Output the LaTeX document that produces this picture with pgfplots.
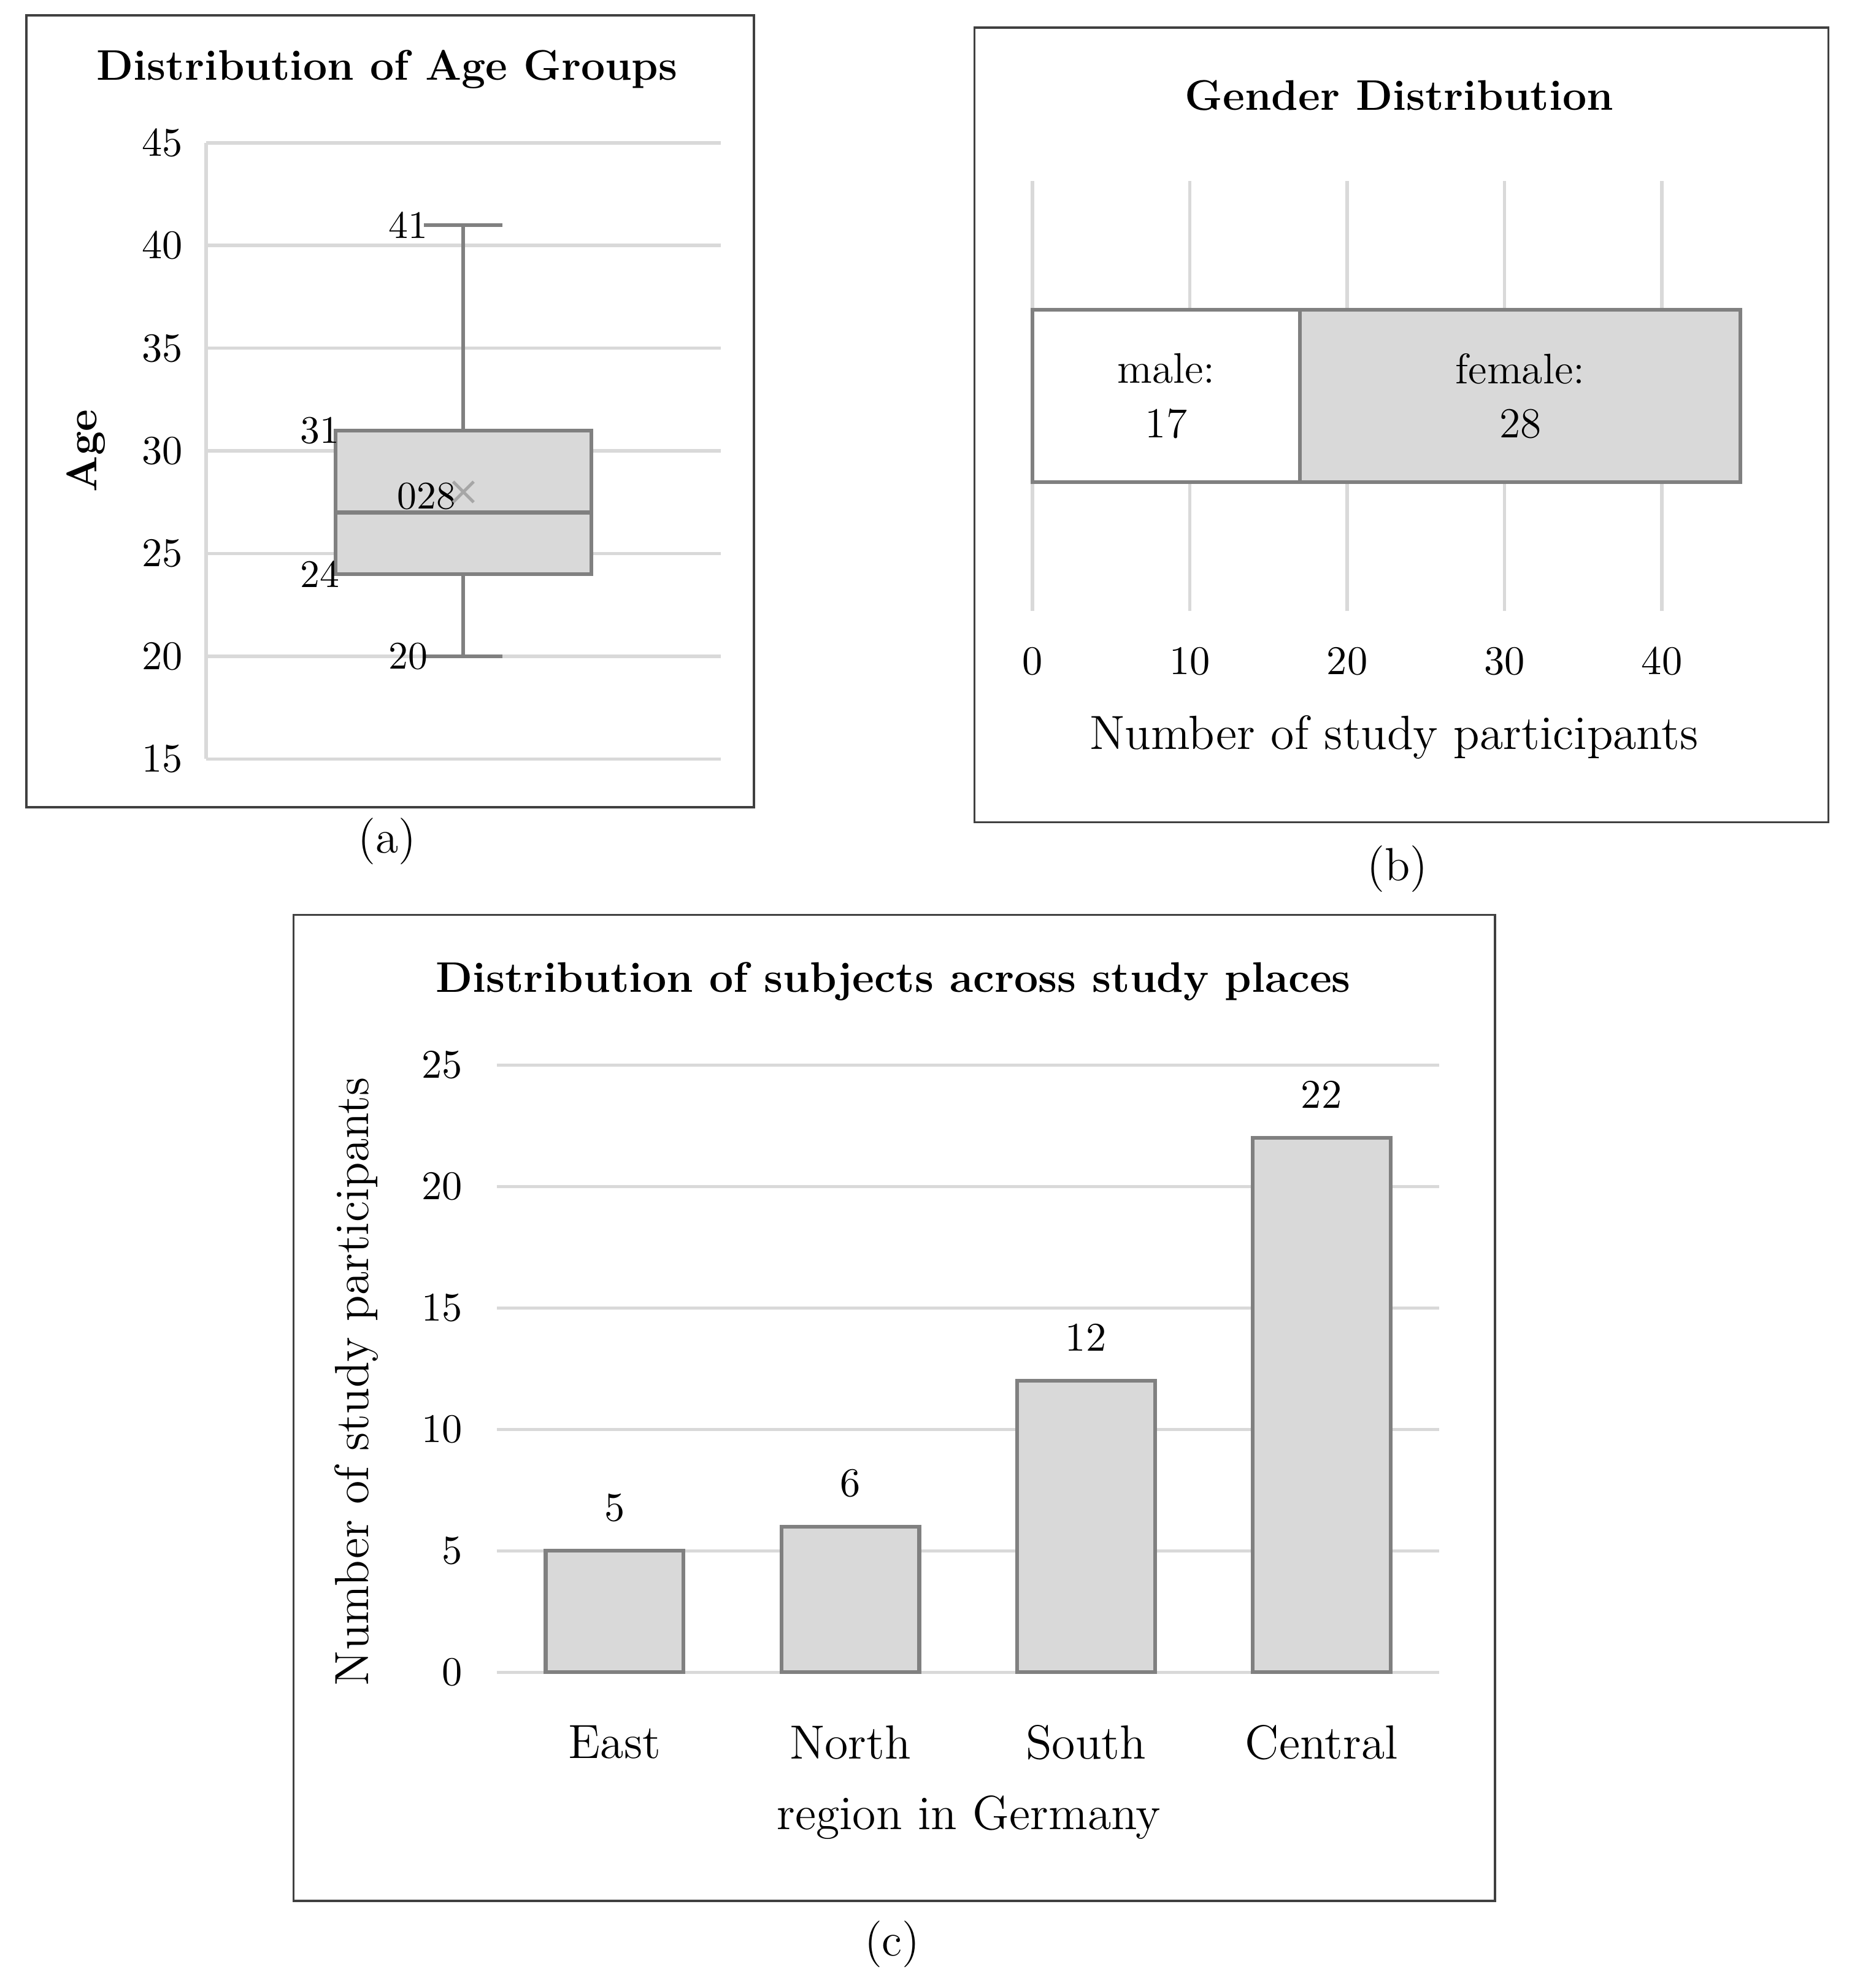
\documentclass[border=0pt]{standalone}
\usepackage{pgfplots}
\pgfplotsset{compat=1.18}

\definecolor{barfill}{HTML}{D9D9D9}
\definecolor{baredge}{HTML}{808080}
\definecolor{gridc}{HTML}{D9D9D9}
\definecolor{framec}{HTML}{404040}
\definecolor{meanc}{HTML}{A6A6A6}

\newcommand\tickfont{\fontsize{10.5}{12}\selectfont}
\newcommand\titlefont{\fontsize{11.5}{13}\selectfont\bfseries}
\newcommand\labelfont{\fontsize{12.9}{15}\selectfont}

\pgfplotsset{
  panel/.style={
    scale only axis,
    tick style={draw=none},
    ticklabel style={font=\tickfont},
    grid style={draw=gridc, line width=0.9pt},
    % cancel the default 6pt lift of the title
    title style={font=\titlefont, anchor=center, yshift=-6pt},
    label style={font=\labelfont, anchor=center},
    clip=false,
  },
  boxline/.style={draw=baredge, line width=1pt},
}

\begin{document}
\begin{tikzpicture}
\useasboundingbox (0pt,0pt) rectangle (500pt,-534.6pt);

% frames round the three panels
\draw[framec, line width=0.6pt] (7.1pt,-4.1pt) rectangle (202.7pt,-217.1pt);
\draw[framec, line width=0.6pt] (262.0pt,-7.4pt) rectangle (491.6pt,-221.1pt);
\draw[framec, line width=0.6pt] (78.9pt,-246.0pt) rectangle (402.0pt,-511.2pt);

% (a) age box plot: whiskers 20/41, quartiles 24/31, median 27, mean 28
\begin{axis}[panel,
  at={(55.4pt,-38.4pt)}, anchor=north west,
  width=138.4pt, height=165.7pt,
  xmin=0, xmax=2, ymin=15, ymax=45,
  ytick={15,20,...,45}, xtick=\empty,
  ymajorgrids,
  axis lines=left,
  axis line style={-, draw=gridc, line width=0.9pt},
  yticklabel style={anchor=east, inner sep=0pt, xshift=-4pt},
  title={Distribution of Age Groups},
  title style={at={(axis description cs:0.352,1.1195)}},
  ylabel={Age},
  ylabel style={at={(axis description cs:-0.2334,0.5)}, font=\titlefont},
]
\addplot[boxline] coordinates {(1,24) (1,20)};
\addplot[boxline] coordinates {(0.8475,20) (1.1525,20)};
\addplot[boxline] coordinates {(1,31) (1,41)};
\addplot[boxline] coordinates {(0.8475,41) (1.1525,41)};
\addplot[boxline, fill=barfill] coordinates {(0.503,24) (1.497,24) (1.497,31) (0.503,31) (0.503,24)} -- cycle;
\addplot[boxline] coordinates {(0.503,27) (1.497,27)};
\addplot[only marks, mark=x, mark size=3.9pt, mark options={draw=meanc, line width=0.8pt}] coordinates {(1,28)};
\node[font=\tickfont, anchor=east, inner sep=0pt, xshift=1.2pt] at (axis cs:0.8475,41) {41};
\node[font=\tickfont, anchor=east, inner sep=0pt, xshift=1.2pt] at (axis cs:0.503,31) {31};
\node[font=\tickfont, anchor=east, inner sep=0pt, xshift=1.2pt] at (axis cs:0.503,24) {24};
\node[font=\tickfont, anchor=east, inner sep=0pt, xshift=1.2pt] at (axis cs:0.8475,20) {20};
\node[font=\tickfont, anchor=east, inner sep=0pt, xshift=1pt] at (axis cs:0.96,27.8) {028};
\end{axis}

% (b) gender stacked bar
\begin{axis}[panel,
  at={(277.6pt,-48.7pt)}, anchor=north west,
  width=190.4pt, height=115.6pt,
  xbar stacked, bar width=46.4pt,
  xmin=0, xmax=45, ymin=0, ymax=1,
  xtick={0,10,20,30,40}, ytick=\empty,
  xmajorgrids,
  axis line style={draw=none},
  xticklabel style={anchor=center, yshift=-13.5pt},
  title={Gender Distribution},
  title style={at={(axis description cs:0.518,1.1998)}},
  xlabel={Number of study participants},
  xlabel style={at={(axis description cs:0.5105,-0.294)}},
]
\addplot[boxline, fill=white] coordinates {(17,0.5)};
\addplot[boxline, fill=barfill] coordinates {(28,0.5)};
\coordinate (male) at (axis cs:8.5,0.5);
\coordinate (female) at (axis cs:31,0.5);
\end{axis}
\node[font=\fontsize{11.5}{14.6}\selectfont, align=center] at (male) {male:\\17};
\node[font=\fontsize{11.5}{14.6}\selectfont, align=center] at (female) {female:\\28};

% (c) subjects per region
\begin{axis}[panel,
  at={(133.6pt,-286.4pt)}, anchor=north west,
  width=253.4pt, height=163.3pt,
  ybar, bar width=37.1pt,
  xmin=-0.5, xmax=3.5, ymin=0, ymax=25,
  xtick=data, xticklabels={East,North,South,Central},
  ytick={0,5,...,25},
  ymajorgrids,
  axis line style={draw=none},
  xticklabel style={anchor=center, yshift=-14.6pt, font=\labelfont},
  yticklabel style={anchor=east, inner sep=0pt, xshift=-9.1pt},
  nodes near coords,
  every node near coord/.append style={font=\tickfont, anchor=center, yshift=11.6pt},
  title={Distribution of subjects across study places},
  title style={at={(axis description cs:0.4207,1.1378)}},
  xlabel={region in Germany},
  xlabel style={at={(axis description cs:0.5008,-0.2394)}},
  ylabel={Number of study participants},
  ylabel style={at={(axis description cs:-0.1492,0.4789)}},
]
\addplot[boxline, fill=barfill] coordinates {(0,5) (1,6) (2,12) (3,22)};
\end{axis}

% captions
\node[font=\fontsize{12.5}{15}\selectfont] at (104.1pt,-226.2pt) {(a)};
\node[font=\fontsize{12.5}{15}\selectfont] at (375.8pt,-233.7pt) {(b)};
\node[font=\fontsize{12.5}{15}\selectfont] at (239.9pt,-522.8pt) {(c)};
\end{tikzpicture}
\end{document}
